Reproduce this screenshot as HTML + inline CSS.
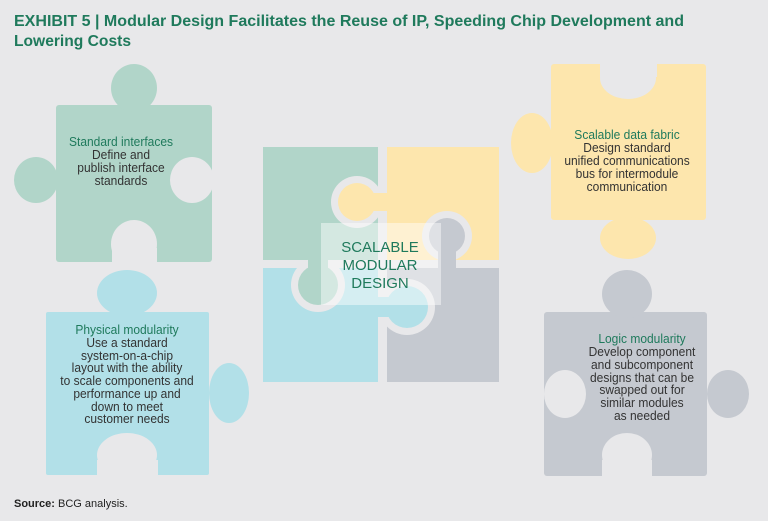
<!DOCTYPE html>
<html><head><meta charset="utf-8"><style>
html,body{margin:0;padding:0;background:#e8e8ea;}
svg{display:block;font-family:"Liberation Sans",sans-serif;}
</style></head><body>
<svg width="768" height="521" viewBox="0 0 768 521" xmlns="http://www.w3.org/2000/svg">
<rect width="768" height="521" fill="#e8e8ea"/>
<text x="14" y="26" font-size="16" font-weight="bold" fill="#1f7a5c" textLength="670" lengthAdjust="spacingAndGlyphs">EXHIBIT 5 | Modular Design Facilitates the Reuse of IP, Speeding Chip Development and</text>
<text x="14" y="46" font-size="16" font-weight="bold" fill="#1f7a5c" textLength="117" lengthAdjust="spacingAndGlyphs">Lowering Costs</text>

<!-- Green piece -->
<g fill="#b1d5c9">
<rect x="56" y="105" width="156" height="157" rx="3"/>
<ellipse cx="134" cy="88" rx="23" ry="24"/><rect x="124" y="100" width="20" height="8"/>
<ellipse cx="36" cy="180" rx="22" ry="23"/>
</g>
<g fill="#e8e8ea">
<ellipse cx="192" cy="180" rx="22" ry="23"/>
<ellipse cx="134" cy="244" rx="23" ry="24"/><rect x="112" y="248" width="45" height="15"/>
</g>
<g font-size="12.5" text-anchor="middle" fill="#333" transform="translate(121,0) scale(0.96,1)">
<text x="0" y="146" fill="#1f7a5c">Standard interfaces</text>
<text x="0" y="159">Define and</text>
<text x="0" y="172">publish interface</text>
<text x="0" y="185">standards</text>
</g>

<!-- Yellow piece -->
<g fill="#fde6ad">
<rect x="551" y="64" width="155" height="156" rx="3"/>
<ellipse cx="532" cy="143" rx="21" ry="30"/>
<ellipse cx="628" cy="238" rx="28" ry="21"/>
</g>
<g fill="#e8e8ea">
<ellipse cx="628" cy="78" rx="28" ry="21"/><rect x="600" y="62" width="57" height="15"/>
</g>
<g font-size="12.5" text-anchor="middle" fill="#333" transform="translate(627,0) scale(0.96,1)">
<text x="0" y="139" fill="#1f7a5c">Scalable data fabric</text>
<text x="0" y="152">Design standard</text>
<text x="0" y="165">unified communications</text>
<text x="0" y="178">bus for intermodule</text>
<text x="0" y="191">communication</text>
</g>

<!-- Blue piece -->
<g fill="#b2e0e8">
<rect x="46" y="312" width="163" height="163" rx="2"/>
<ellipse cx="127" cy="293" rx="30" ry="23"/>
<ellipse cx="229" cy="393" rx="20" ry="30"/>
</g>
<g fill="#e8e8ea">
<ellipse cx="127" cy="455" rx="30" ry="22"/><rect x="97" y="460" width="61" height="16"/>
</g>
<g font-size="12.5" text-anchor="middle" fill="#333" transform="translate(127,0) scale(0.96,1)">
<text x="0" y="334" fill="#1f7a5c">Physical modularity</text>
<text x="0" y="347">Use a standard</text>
<text x="0" y="360">system-on-a-chip</text>
<text x="0" y="372">layout with the ability</text>
<text x="0" y="385">to scale components and</text>
<text x="0" y="398">performance up and</text>
<text x="0" y="411">down to meet</text>
<text x="0" y="423">customer needs</text>
</g>

<!-- Gray piece -->
<g fill="#c5c9d0">
<rect x="544" y="312" width="163" height="164" rx="3"/>
<ellipse cx="627" cy="294" rx="25" ry="24"/>
<ellipse cx="728" cy="394" rx="21" ry="24"/>
</g>
<g fill="#e8e8ea">
<ellipse cx="565" cy="394" rx="21" ry="24"/>
<ellipse cx="627" cy="455" rx="25" ry="22"/><rect x="602" y="460" width="50" height="17"/>
</g>
<g font-size="12.5" text-anchor="middle" fill="#333" transform="translate(642,0) scale(0.96,1)">
<text x="0" y="343" fill="#1f7a5c">Logic modularity</text>
<text x="0" y="356">Develop component</text>
<text x="0" y="369">and subcomponent</text>
<text x="0" y="382">designs that can be</text>
<text x="0" y="394">swapped out for</text>
<text x="0" y="407">similar modules</text>
<text x="0" y="420">as needed</text>
</g>

<!-- Center puzzle -->
<rect x="263" y="147" width="115" height="113" fill="#b1d5c9"/>
<rect x="387" y="147" width="112" height="113" fill="#fde6ad"/>
<rect x="263" y="268" width="115" height="114" fill="#b2e0e8"/>
<rect x="387" y="268" width="112" height="114" fill="#c5c9d0"/>
<circle cx="357" cy="202" r="26" fill="#e8e8ea"/>
<circle cx="357" cy="202" r="19" fill="#fde6ad"/>
<rect x="370" y="193" width="17" height="18" fill="#fde6ad"/>
<circle cx="447" cy="236" r="25" fill="#e8e8ea"/>
<circle cx="447" cy="236" r="18" fill="#c5c9d0"/>
<rect x="438" y="248" width="18" height="20" fill="#c5c9d0"/>
<circle cx="318" cy="285" r="27" fill="#e8e8ea"/>
<circle cx="318" cy="285" r="20" fill="#b1d5c9"/>
<rect x="308" y="258" width="20" height="12" fill="#b1d5c9"/>
<circle cx="407" cy="307" r="28" fill="#e8e8ea"/>
<circle cx="407" cy="307" r="21" fill="#b2e0e8"/>
<rect x="376" y="297" width="14" height="20" fill="#b2e0e8"/>
<rect x="321" y="223" width="120" height="82" fill="#ffffff" fill-opacity="0.45"/>
<g font-size="15" text-anchor="middle" fill="#1f7a5c">
<text x="380" y="252">SCALABLE</text>
<text x="380" y="270">MODULAR</text>
<text x="380" y="288">DESIGN</text>
</g>

<text x="14" y="507" font-size="11" fill="#222"><tspan font-weight="bold">Source:</tspan> BCG analysis.</text>
</svg>
</body></html>
